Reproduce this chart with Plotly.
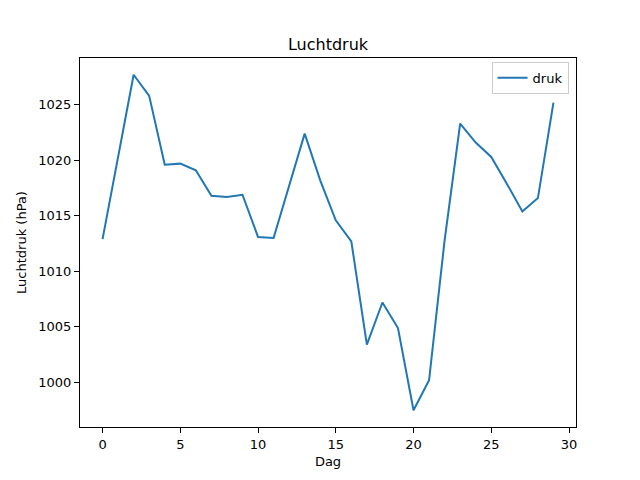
import plotly.graph_objects as go

dag = list(range(30))
druk = [1012.9, 1020.4, 1027.7, 1025.8, 1019.6, 1019.7, 1019.1, 1016.8, 1016.7, 1016.9,
        1013.1, 1013.0, 1017.6, 1022.4, 1018.2, 1014.6, 1012.7, 1003.4, 1007.2, 1004.9,
        997.5, 1000.2, 1012.8, 1023.3, 1021.6, 1020.3, 1017.9, 1015.4, 1016.6, 1025.2]

fig = go.Figure()
fig.add_trace(go.Scatter(x=dag, y=druk, mode="lines", name="druk",
                         line=dict(color="#1f77b4", width=2)))

lo, hi = min(druk), max(druk)
pad = (hi - lo) * 0.05
xpad = (max(dag) - min(dag)) * 0.05

axis_style = dict(showline=True, linecolor="black", linewidth=1, mirror=True,
                  ticks="outside", ticklen=5, tickcolor="black", showgrid=False,
                  zeroline=False, tickfont=dict(size=13, color="black"))

# page body has an 8px margin, so the plot area is shifted up/left to compensate
fig.update_layout(
    width=640, height=480,
    paper_bgcolor="white", plot_bgcolor="white",
    font=dict(family="DejaVu Sans", color="black"),
    margin=dict(l=72, r=72, t=50, b=61),
    title=dict(text="Luchtdruk", x=0.5, xanchor="center", xref="paper",
               y=1, yref="paper", yanchor="bottom", pad=dict(b=8),
               font=dict(size=16)),
    xaxis=dict(title=dict(text="Dag", font=dict(size=13), standoff=6),
               range=[min(dag) - xpad, max(dag) + xpad], dtick=5, **axis_style),
    yaxis=dict(title=dict(text="Luchtdruk (hPa)", font=dict(size=13), standoff=8),
               range=[lo - pad, hi + pad], dtick=5, **axis_style),
    showlegend=True,
    legend=dict(x=0.985, y=0.99, xanchor="right", yanchor="top",
                bordercolor="#cccccc", borderwidth=1, bgcolor="white",
                font=dict(size=13)),
)

fig.write_html("out.html")
